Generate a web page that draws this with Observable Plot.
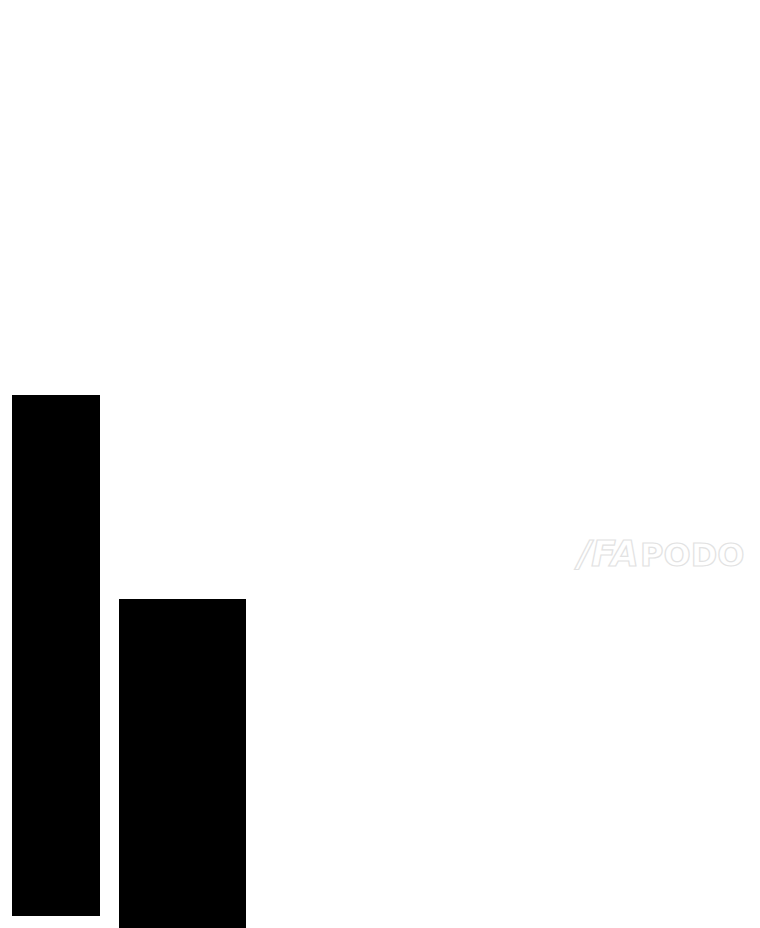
<!DOCTYPE html>
<html>
<head>
<meta charset="utf-8">
<script src="https://cdn.jsdelivr.net/npm/d3@7"></script>
<script src="https://cdn.jsdelivr.net/npm/@observablehq/plot@0.6"></script>
<style>
  html, body { margin: 0; padding: 0; background: #ffffff; }
  #wrap { position: relative; width: 760px; height: 928px; overflow: hidden; }
  #mark { position: absolute; left: 578px; top: 533px; font-family: "DejaVu Sans", sans-serif;
          font-weight: bold; white-space: nowrap; color: #fff; }
  #mark .logo { font-style: italic; font-size: 36px; -webkit-text-stroke: 1.2px #e2e2e2; letter-spacing: 0px; }
  #mark .word { font-size: 32px; -webkit-text-stroke: 1.2px #e2e2e2; margin-left: 1px; }
</style>
</head>
<body>
<div id="wrap"><div id="chart"></div><div id="mark"><span class="logo">/FA</span><span class="word">PODO</span></div></div>
<script>
// Data (two floating bars on a linear scale)
const categories = ["A", "B"];
const startValues = [12, 119];
const endValues = [100, 246];
const lowValues = [12, -10];
const highValues = [533, 329];

const data = categories.map((c, i) => ({
  category: c,
  x1: startValues[i],
  x2: endValues[i],
  y1: lowValues[i],
  y2: highValues[i]
}));

const chart = Plot.plot({
  width: 760,
  height: 928,
  margin: 0,
  style: { background: "#ffffff", overflow: "hidden" },
  x: { type: "linear", domain: [0, 760], axis: null },
  y: { type: "linear", domain: [0, 928], axis: null },
  marks: [
    Plot.rect(data, { x1: "x1", x2: "x2", y1: "y1", y2: "y2", fill: "#000000" })
  ]
});
document.getElementById("chart").appendChild(chart);
</script>
</body>
</html>
